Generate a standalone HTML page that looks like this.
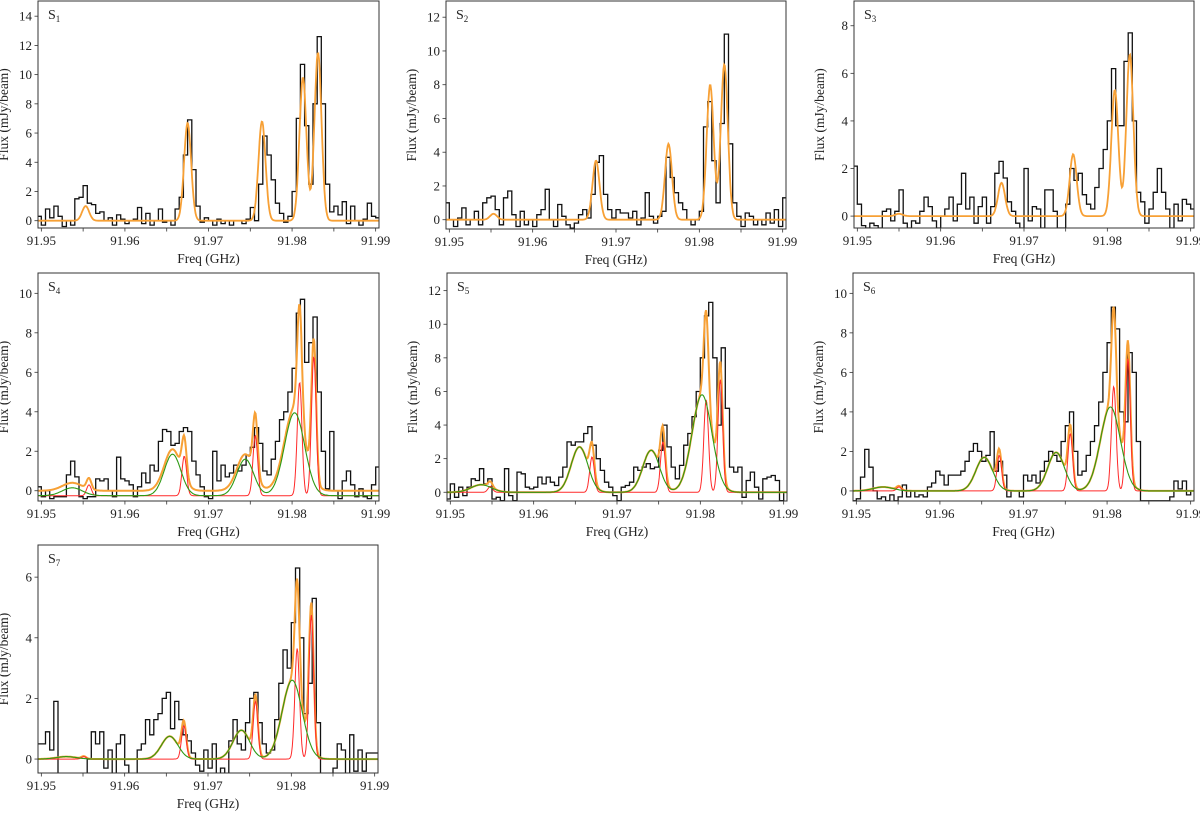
<!DOCTYPE html>
<html><head><meta charset="utf-8"><style>
html,body{margin:0;padding:0;background:#fff}
svg{display:block}
text{font-family:"Liberation Serif","DejaVu Serif",serif;fill:#222}
</style></head><body>
<svg id="fig" width="1200" height="813" viewBox="0 0 1200 813" xmlns="http://www.w3.org/2000/svg"></svg>
<script>
// Bin start frequency and width (GHz)
const binStart = 91.949;
const binWidth = 0.0005;
const xTickLabels = ["91.95","91.96","91.97","91.98","91.99"];
const xTickValues = [91.95,91.96,91.97,91.98,91.99];

// Observed flux per bin (mJy/beam)
const fluxS1 = [0.7,0.3,-0.3,0.8,0.2,1.0,0.3,-0.4,0.0,-0.3,1.5,1.6,2.4,1.2,1.1,0.5,0.6,0.0,0.2,-0.3,0.4,0.1,-0.2,0.0,0.1,0.9,-0.2,0.5,-0.3,0.0,0.8,-0.1,0.0,-0.3,0.8,1.6,4.5,6.9,3.5,1.0,-0.1,0.2,0.0,-0.3,0.1,-0.2,0.0,-0.3,0.0,0.0,-0.2,0.1,0.9,0.0,2.5,5.8,4.5,2.8,1.2,0.5,-0.1,0.3,2.0,7.0,10.7,6.5,2.5,8.0,12.6,8.0,2.5,0.6,1.0,0.4,1.3,-0.2,1.0,0.0,-0.3,0.1,1.2,0.3,0.2,0.2];
const fluxS2 = [-0.3,1.0,0.0,-0.4,0.1,0.7,-0.3,0.0,0.5,-0.3,1.0,1.3,1.4,0.6,-0.3,1.3,1.7,0.3,-0.4,0.5,-0.3,0.0,-0.4,0.3,0.6,1.8,0.0,-0.4,0.9,0.2,-0.3,-0.5,-0.2,0.3,0.6,0.1,1.5,3.4,3.8,1.5,0.6,0.1,0.6,0.4,0.4,0.1,0.5,-0.3,0.1,1.6,0.2,-0.2,0.2,0.5,3.7,2.5,1.6,1.0,0.6,0.0,-0.3,0.0,0.5,5.5,7.0,3.5,1.0,5.7,11.0,4.5,1.0,0.2,-0.4,0.4,0.2,-0.3,0.0,-0.3,0.4,-0.2,0.6,-0.4,1.3,0.5];
const fluxS3 = [0.6,2.1,0.5,-0.4,-0.5,-0.3,-0.4,-0.5,0.2,0.3,-0.2,0.2,1.1,-0.3,-0.5,-0.2,-0.3,0.2,0.8,0.4,-0.2,-0.5,0.0,0.3,0.8,-0.2,0.5,1.8,0.3,0.8,-0.3,0.4,0.8,-0.3,0.4,1.8,2.3,1.6,0.6,0.2,-0.3,-0.5,2.0,-0.2,0.4,0.3,-0.5,1.1,1.1,0.2,-0.5,-0.5,0.5,2.0,1.5,1.8,0.9,0.5,0.3,1.2,2.0,2.8,4.0,6.2,3.8,3.8,6.5,7.7,4.0,1.0,0.6,-0.3,0.3,1.0,2.0,1.0,0.3,-0.5,0.5,-0.2,0.7,0.5,0.3,0.2];
const fluxS4 = [0.7,0.2,-0.3,0.0,-0.4,-0.3,-0.3,-0.3,0.8,1.5,0.7,-0.3,-0.4,-0.3,-0.3,0.6,0.5,0.6,0.0,-0.3,1.7,0.6,0.5,0.3,-0.3,0.2,0.9,0.4,1.3,1.0,2.5,3.1,3.0,2.3,2.4,3.0,3.2,3.0,1.5,0.8,0.2,-0.3,-0.4,2.0,0.5,1.3,0.7,0.9,1.3,1.0,1.3,1.8,2.2,3.2,2.4,1.0,0.8,1.6,2.5,3.6,4.0,5.0,6.2,9.0,9.7,6.5,7.5,8.8,5.0,2.0,0.1,3.0,0.0,-0.4,0.5,1.0,0.3,-0.3,0.1,-0.3,-0.4,0.3,1.2,0.3];
const fluxS5 = [0.2,-0.4,0.5,-0.3,0.3,-0.2,0.3,0.8,0.7,1.4,0.5,0.8,-0.4,-0.3,-0.5,1.4,-0.2,-0.5,1.2,1.1,0.3,0.2,0.3,0.9,0.5,0.9,0.6,0.4,0.9,1.5,3.0,2.8,3.0,3.0,3.5,3.9,2.8,2.0,1.3,0.6,0.3,-0.2,-0.5,0.3,0.4,0.6,1.5,1.3,1.5,1.7,1.4,1.5,2.5,4.0,2.7,1.5,0.8,1.6,2.8,3.5,4.5,6.0,8.0,10.5,11.3,8.0,4.0,8.6,5.0,1.5,1.2,1.5,-0.3,0.7,1.2,0.3,-0.4,0.8,0.9,1.0,0.7,-0.5,0.0,-0.4];
const fluxS6 = [-0.3,-0.5,-0.4,0.7,2.1,1.2,0.0,-0.4,-0.3,-0.5,-0.2,-0.5,-0.3,0.3,-0.3,0.0,-0.3,-0.2,-0.3,0.2,0.4,1.0,0.8,0.3,0.8,0.8,0.8,1.0,1.5,2.0,2.4,2.0,1.5,1.8,3.0,1.0,1.5,0.8,-0.3,0.0,0.0,-0.3,0.8,0.5,0.8,0.4,1.0,1.5,2.0,1.8,1.5,2.5,3.3,4.0,2.0,0.8,1.0,1.8,2.5,3.3,4.5,6.0,7.5,9.3,8.2,4.0,3.5,7.0,6.0,2.5,-0.5,-0.5,-0.5,-0.5,-0.5,-0.5,-0.5,-0.3,0.5,0.1,0.5,-0.2,0.0,0.2];
const fluxS7 = [-0.5,0.5,0.5,0.9,0.3,1.9,-0.5,-0.5,-0.5,-0.5,-0.5,-0.5,-0.5,0.0,0.9,0.5,0.9,-0.3,0.3,-0.5,0.5,0.8,-0.2,-0.5,-0.5,0.3,0.5,1.3,0.8,1.3,1.5,2.0,2.2,1.0,1.9,1.3,0.8,0.6,0.2,-0.2,-0.4,0.3,-0.3,0.5,-0.5,-0.3,-0.5,0.6,1.3,0.5,0.3,1.2,2.0,2.2,1.2,0.5,0.2,0.3,1.3,2.5,3.6,3.0,4.5,6.3,4.0,1.5,2.5,5.3,1.2,-0.5,-0.5,-0.5,-0.3,0.5,0.3,-0.5,0.8,-0.4,0.3,-0.4,0.2,0.2,0.2,0.2];

// Single-component fits (S1-S3)
const fitCentersS1 = [91.9553,91.9675,91.9764,91.9813,91.9831];
const fitAmpsS1 = [1.0,6.7,6.8,9.8,11.5];
const fitCentersS2 = [91.9553,91.9676,91.9763,91.9813,91.9830];
const fitAmpsS2 = [0.35,3.5,4.5,8.0,9.2];
const fitCentersS3 = [91.9550,91.9673,91.9759,91.9809,91.9827];
const fitAmpsS3 = [0.1,1.4,2.6,5.3,6.8];
const fitSigma = 0.00042;

// Two-component fits (S4-S7): narrow (red) + broad (green)
const redCentersS4 = [91.9557,91.9671,91.9756,91.9809,91.9826];
const redAmpsS4 = [0.55,2.0,3.05,5.75,7.05];
const greenCentersS4 = [91.9537,91.9657,91.9744,91.9803];
const greenAmpsS4 = [0.4,2.1,1.85,4.2];
const offsetS4 = -0.25;
const redCentersS5 = [91.9548,91.9670,91.9755,91.9807,91.9824];
const redAmpsS5 = [0.35,2.1,3.0,5.5,6.7];
const greenCentersS5 = [91.9537,91.9655,91.9741,91.9802];
const greenAmpsS5 = [0.45,2.7,2.5,5.8];
const offsetS5 = 0;
const redCentersS6 = [91.9551,91.9671,91.9756,91.9808,91.9825];
const redAmpsS6 = [0.2,1.8,2.9,5.3,6.7];
const greenCentersS6 = [91.9532,91.9653,91.9739,91.9804];
const greenAmpsS6 = [0.2,1.7,1.95,4.25];
const offsetS6 = 0;
const redCentersS7 = [91.9551,91.9671,91.9757,91.9807,91.9824];
const redAmpsS7 = [0.08,1.1,1.9,3.65,4.75];
const greenCentersS7 = [91.9530,91.9654,91.9740,91.9801];
const greenAmpsS7 = [0.08,0.75,0.95,2.6];
const offsetS7 = 0;
const redSigma = 0.00028;
const greenSigmas = [0.0012,0.0010,0.0010,0.0012];

const yTicksS1 = [0,2,4,6,8,10,12,14];
const yTicksS2 = [0,2,4,6,8,10,12];
const yTicksS3 = [0,2,4,6,8];
const yTicksS4 = [0,2,4,6,8,10];
const yTicksS5 = [0,2,4,6,8,10,12];
const yTicksS6 = [0,2,4,6,8,10];
const yTicksS7 = [0,2,4,6];

const NS="http://www.w3.org/2000/svg";
const svg=document.getElementById('fig');
function mk(tag,attrs,parent){const e=document.createElementNS(NS,tag);for(const k in attrs)e.setAttribute(k,attrs[k]);(parent||svg).appendChild(e);return e;}

const panels=[
 {id:1,box:[38,379,1,228],ylim:[-0.5,15.04],flux:fluxS1,yt:yTicksS1,fc:fitCentersS1,fa:fitAmpsS1},
 {id:2,box:[446,786,1,229],ylim:[-0.55,12.96],flux:fluxS2,yt:yTicksS2,fc:fitCentersS2,fa:fitAmpsS2},
 {id:3,box:[854,1194,1,228],ylim:[-0.5,9.04],flux:fluxS3,yt:yTicksS3,fc:fitCentersS3,fa:fitAmpsS3},
 {id:4,box:[38,379,273,501],ylim:[-0.52,11.03],flux:fluxS4,yt:yTicksS4,rc:redCentersS4,ra:redAmpsS4,gc:greenCentersS4,ga:greenAmpsS4,off:offsetS4},
 {id:5,box:[447,787,273,501],ylim:[-0.52,13.05],flux:fluxS5,yt:yTicksS5,rc:redCentersS5,ra:redAmpsS5,gc:greenCentersS5,ga:greenAmpsS5,off:offsetS5},
 {id:6,box:[853,1194,273,501],ylim:[-0.51,11.03],flux:fluxS6,yt:yTicksS6,rc:redCentersS6,ra:redAmpsS6,gc:greenCentersS6,ga:greenAmpsS6,off:offsetS6},
 {id:7,box:[38,378,545,773],ylim:[-0.46,7.06],flux:fluxS7,yt:yTicksS7,rc:redCentersS7,ra:redAmpsS7,gc:greenCentersS7,ga:greenAmpsS7,off:offsetS7}
];
const XMIN=91.9496, XMAX=91.9904;

function gauss(x,c,a,s){return a*Math.exp(-0.5*((x-c)/s)**2);}

panels.forEach(p=>{
 const [x0,x1,y0,y1]=p.box;
 const X=f=>x0+(f-XMIN)/(XMAX-XMIN)*(x1-x0);
 const Y=v=>y1-(v-p.ylim[0])/(p.ylim[1]-p.ylim[0])*(y1-y0);
 const g=mk('g',{});
 
 
 const cp=mk('clipPath',{id:'cp'+p.id},g);
 mk('rect',{x:x0,y:y0,width:x1-x0,height:y1-y0},cp);
 const plot=mk('g',{'clip-path':'url(#cp'+p.id+')'},g);
 let d='';
 p.flux.forEach((v,i)=>{const xa=X(binStart+i*binWidth),xb=X(binStart+(i+1)*binWidth),yy=Y(v);d+=(i===0?'M':'L')+xa.toFixed(1)+','+yy.toFixed(1)+'L'+xb.toFixed(1)+','+yy.toFixed(1);});
 const h=mk('path',{d:d,fill:'none',stroke:'#111','stroke-width':1.3},plot);
 
 
 const N=500;
 function curve(fn,color,w,name){let dd='';for(let k=0;k<=N;k++){const f=XMIN+(XMAX-XMIN)*k/N;dd+=(k?'L':'M')+X(f).toFixed(1)+','+Y(fn(f)).toFixed(1);}const e=mk('path',{d:dd,fill:'none',stroke:color,'stroke-width':w},plot);}
 if(p.fc){
  curve(f=>p.fc.reduce((s,c,i)=>s+gauss(f,c,p.fa[i],fitSigma),0),'#f7a035',1.8,'fit-total-s'+p.id);
 } else {
  const red=f=>p.rc.reduce((s,c,i)=>s+gauss(f,c,p.ra[i],redSigma),0);
  const grn=f=>p.gc.reduce((s,c,i)=>s+gauss(f,c,p.ga[i],greenSigmas[i]),0);
  curve(f=>red(f)+grn(f),'#f7a035',2,'fit-total-s'+p.id);
  curve(f=>red(f)+p.off,'#ff2a2a',1,'fit-narrow-s'+p.id);
  curve(f=>grn(f)+p.off,'#2e9a14',1.1,'fit-broad-s'+p.id);
 }
 const fr=mk('rect',{x:x0,y:y0,width:x1-x0,height:y1-y0,fill:'none',stroke:'#333','stroke-width':1},g);
 
 
 for(let f=91.95;f<=91.9901;f+=0.005){mk('line',{x1:X(f),x2:X(f),y1:y1,y2:y1+3.5,stroke:'#333','stroke-width':0.8},g);}
 xTickValues.forEach((v,i)=>{const t=mk('text',{x:X(v),y:y1+17,'text-anchor':'middle','font-size':13},g);t.textContent=xTickLabels[i];});
 p.yt.forEach(v=>{mk('line',{x1:x0-3.5,x2:x0,y1:Y(v),y2:Y(v),stroke:'#333','stroke-width':0.8},g);const t=mk('text',{x:x0-6,y:Y(v)+4.5,'text-anchor':'end','font-size':13},g);t.textContent=String(v);});
 const xl=mk('text',{x:(x0+x1)/2,y:y1+35,'text-anchor':'middle','font-size':13.5},g);
 xl.textContent='Freq (GHz)';
 
 
 const cy=(y0+y1)/2, cx=x0-30;
 const yl=mk('text',{x:cx,y:cy,'text-anchor':'middle','font-size':13.5,transform:'rotate(-90 '+cx+' '+cy+')'},g);
 yl.textContent='Flux (mJy/beam)';
 
 
 const lb=mk('text',{x:x0+10,y:y0+18,'font-size':14},g);
 
 
 lb.appendChild(document.createTextNode('S'));
 const sub=mk('tspan',{'font-size':9,dy:3},lb);sub.textContent=String(p.id);
});
</script>
</body></html>
